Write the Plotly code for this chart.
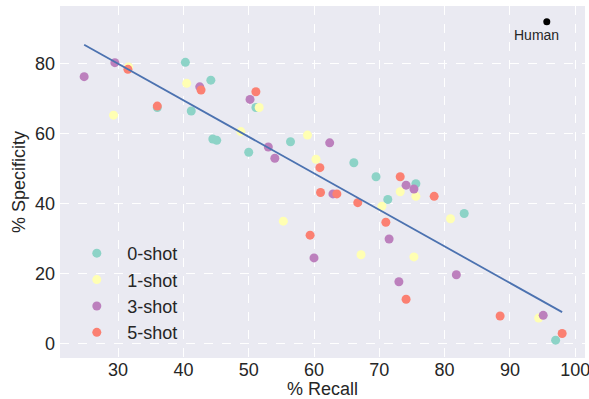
import numpy as np
import plotly.graph_objects as go

groups = ["0-shot", "1-shot", "3-shot", "5-shot"]
colors = ["#8DD3C7", "#FFFFB3", "#BC80BD", "#FB8072"]

recall_0 = [36.0, 40.3, 44.2, 41.2, 44.5, 45.1, 50.0, 51.1, 56.4, 66.1, 69.5, 75.6, 71.3, 83.0, 97.0]
spec_0 = [67.4, 80.3, 75.2, 66.4, 58.4, 58.0, 54.6, 67.4, 57.6, 51.6, 47.6, 45.6, 41.1, 37.1, 0.9]

recall_1 = [31.6, 29.3, 40.5, 48.8, 51.6, 59.0, 60.3, 73.2, 75.6, 70.4, 80.9, 67.2, 75.3, 94.4, 55.3]
spec_1 = [79.0, 65.2, 74.3, 60.5, 67.4, 59.5, 52.6, 43.3, 42.0, 39.2, 35.6, 25.3, 24.7, 7.2, 34.9]

recall_3 = [24.8, 29.5, 42.5, 50.2, 53.0, 54.0, 62.4, 74.1, 75.3, 62.9, 71.5, 81.8, 73.0, 95.1, 60.0]
spec_3 = [76.2, 80.2, 73.3, 69.7, 56.1, 52.9, 57.3, 45.2, 44.1, 42.7, 29.8, 19.6, 17.6, 8.0, 24.4]

recall_5 = [31.5, 36.0, 42.7, 51.1, 60.9, 73.2, 78.4, 61.0, 63.5, 66.7, 71.0, 74.1, 88.5, 98.0, 59.4]
spec_5 = [78.3, 67.8, 72.4, 71.9, 50.2, 47.6, 42.0, 43.1, 42.7, 40.2, 34.6, 12.6, 7.8, 2.8, 30.9]

human_recall = [95.65]
human_spec = [91.9]

x_ticks = [30, 40, 50, 60, 70, 80, 90, 100]
y_ticks = [0, 20, 40, 60, 80]

recalls = [recall_0, recall_1, recall_3, recall_5]
specs = [spec_0, spec_1, spec_3, spec_5]

FONT = "Liberation Sans, Arial, sans-serif"
TXT = "#262626"

fig = go.Figure()
for g, c, r, s in zip(groups, colors, recalls, specs):
    fig.add_trace(go.Scatter(x=r, y=s, mode="markers", name=g,
                             marker=dict(color=c, size=9, line=dict(width=0))))

all_r = np.concatenate([np.array(r) for r in recalls])
all_s = np.concatenate([np.array(s) for s in specs])
slope, intercept = np.polyfit(all_r, all_s, 1)
lx = np.array([all_r.min(), all_r.max()])
fig.add_trace(go.Scatter(x=lx, y=slope * lx + intercept, mode="lines",
                         line=dict(color="#4C72B0", width=1.8), showlegend=False))

fig.add_trace(go.Scatter(x=human_recall, y=human_spec, mode="markers",
                         marker=dict(color="black", size=7), showlegend=False))
fig.add_annotation(x=human_recall[0], y=human_spec[0], text="Human", showarrow=False,
                   xshift=-10, yshift=-13, font=dict(size=14, color=TXT, family=FONT))

fig.update_layout(
    width=589, height=399,
    margin=dict(l=60, r=4, t=6, b=41, autoexpand=False),
    paper_bgcolor="white", plot_bgcolor="#EAEAF2",
    font=dict(family=FONT, color=TXT, size=18),
    legend=dict(x=0.012, y=0.02, xanchor="left", yanchor="bottom",
                bgcolor="rgba(0,0,0,0)", font=dict(size=18, color=TXT),
                itemwidth=51),
    xaxis=dict(range=[21.1, 101.5], tickvals=x_ticks, showgrid=True, automargin=False,
               gridcolor="white", griddash="dash", gridwidth=1, zeroline=False,
               showline=False, ticks="", tickfont=dict(size=18), ticklabelstandoff=-1,
               ticklabeloverflow="allow",
               title=dict(text="% Recall", font=dict(size=18), standoff=3)),
    yaxis=dict(range=[-4.2, 96.4], tickvals=y_ticks, showgrid=True, automargin=False,
               gridcolor="white", griddash="dash", gridwidth=1, zeroline=False,
               showline=False, ticks="", tickfont=dict(size=18), ticklabelstandoff=4,
               ticklabeloverflow="allow",
               title=dict(text="% Specificity", font=dict(size=18), standoff=4)),
)

fig.write_html("out.html", config={"displayModeBar": False},
               post_script="document.body.style.margin='0';")
